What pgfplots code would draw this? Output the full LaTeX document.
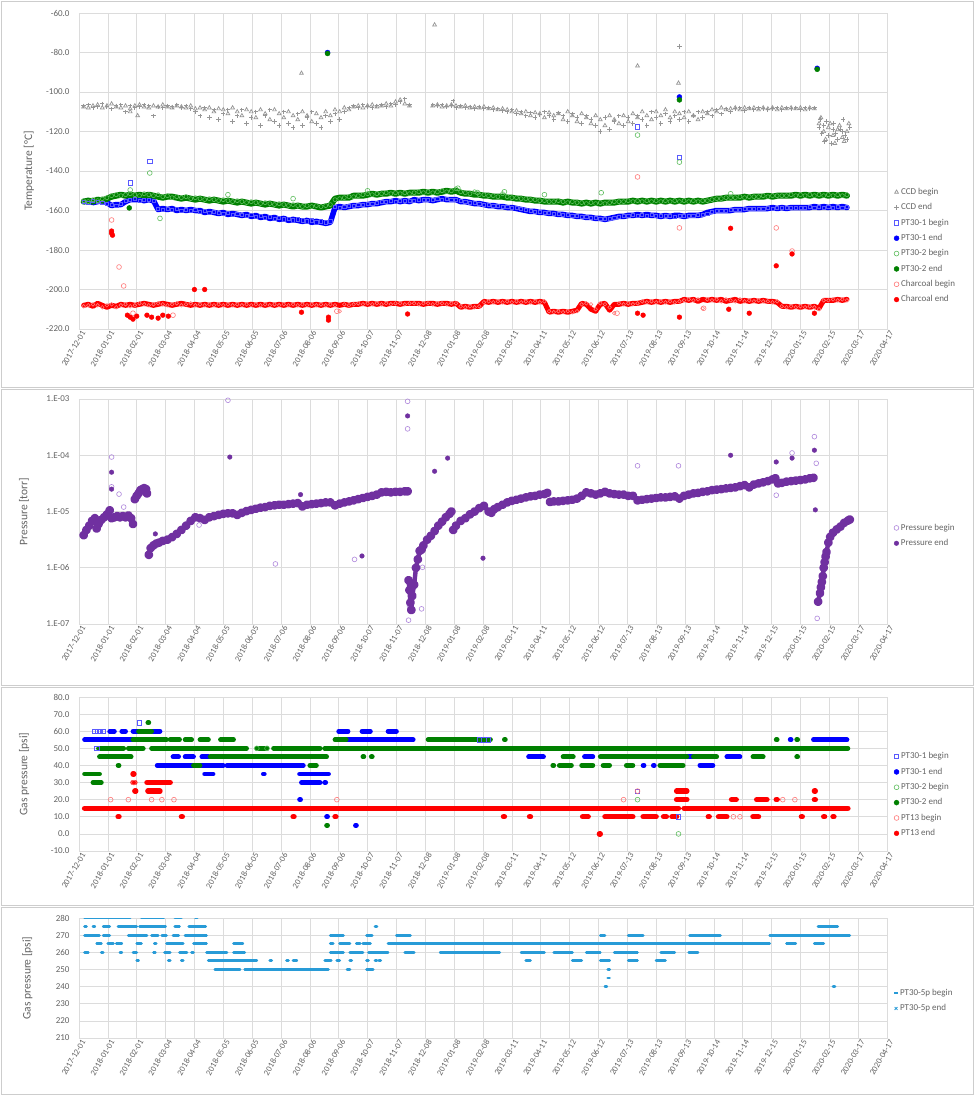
\documentclass[border=0pt]{standalone}
\usepackage{pgfplots}
\pgfplotsset{compat=1.18}
\usepackage{pgfplotstable}
\usepackage{fontspec}
\setmainfont{Carlito}
\definecolor{txt}{RGB}{100,100,100}
\definecolor{grd}{RGB}{220,220,220}
\definecolor{frm}{RGB}{205,205,205}
\definecolor{ccdc}{RGB}{150,150,150}
\definecolor{b1}{RGB}{0,0,255}
\definecolor{b1l}{RGB}{90,90,255}
\definecolor{g2}{RGB}{0,128,0}
\definecolor{g2l}{RGB}{95,190,95}
\definecolor{rc}{RGB}{255,0,0}
\definecolor{rcl}{RGB}{255,120,120}
\definecolor{pp}{RGB}{112,48,160}
\definecolor{ppl}{RGB}{175,135,220}
\definecolor{lb}{RGB}{40,155,215}
\newcommand\tf{\fontsize{8.5}{10}\selectfont}
\newcommand\yf{\fontsize{9}{10}\selectfont}
\newcommand\lf{\fontsize{9}{10}\selectfont}
\newcommand\af{\fontsize{11.5}{13}\selectfont}
\pgfplotsset{
  base/.style={
    scale only axis, width=808pt, anchor=north west,
    xmin=0, xmax=868, xtick={0,31,...,868},
    xticklabels={2017-12-01,2018-01-01,2018-02-01,2018-03-04,2018-04-04,2018-05-05,2018-06-05,2018-07-06,2018-08-06,2018-09-06,2018-10-07,2018-11-07,2018-12-08,2019-01-08,2019-02-08,2019-03-11,2019-04-11,2019-05-12,2019-06-12,2019-07-13,2019-08-13,2019-09-13,2019-10-14,2019-11-14,2019-12-15,2020-01-15,2020-02-15,2020-03-17,2020-04-17},
    xticklabel style={rotate=60, anchor=east, font=\tf, text=txt, inner sep=0.5pt, yshift=-5pt, xshift=1pt},
    yticklabel style={font=\yf, text=txt, xshift=-6pt},
    ylabel style={font=\af, text=txt},
    xmajorgrids, ymajorgrids, major grid style={grd, line width=0.6pt},
    axis line style={grd, line width=0.6pt},
    major tick length=0pt, minor tick length=0pt,
    legend style={draw=none, fill=none, font=\lf, text=txt, anchor=west, row sep=3.6pt, inner sep=2pt},
    legend cell align=left,
    legend image code/.code={\draw[mark repeat=2,mark phase=2] plot coordinates {(0pt,0pt)(3pt,0pt)(6pt,0pt)};},
  },
  ccdB/.style={only marks, mark=triangle, mark size=2.2pt, ccdc, mark options={line width=0.7pt}},
  ccdE/.style={only marks, mark=+, mark size=2.2pt, ccdc, mark options={line width=0.9pt}},
  p1B/.style={only marks, mark=square, mark size=2.2pt, b1l, mark options={line width=0.6pt}},
  p1E/.style={only marks, mark=*, mark size=2.5pt, b1},
  p2B/.style={only marks, mark=o, mark size=2.4pt, g2l, mark options={line width=0.6pt}},
  p2E/.style={only marks, mark=*, mark size=2.5pt, g2},
  chB/.style={only marks, mark=o, mark size=2.4pt, rcl, mark options={line width=0.6pt}},
  chE/.style={only marks, mark=*, mark size=2.4pt, rc},
  prB/.style={only marks, mark=o, mark size=2.4pt, ppl, mark options={line width=0.6pt}},
  prE/.style={only marks, mark=*, mark size=2.3pt, pp},
  run/.style={forget plot, line width=#1, line cap=round, line join=round, unbounded coords=jump},
}
\pgfplotstableread{
d cB cE bB bE gB gE rB rE
5 -107.5 -107 -155.5 -155.5 -155 -155.5 -208.5 -208
10 -108 -106.5 -156 -155 -155.5 -155 -208 -207.5
15 -107 -108 -155 -156 -154.5 -155.5 -207.5 -208.5
20 -106.5 -107.5 -155.5 -155.5 -155 -154.5 -208 -207
25 -108 -106 -156 -155 -154 -155 -209 -208
30 -107 -107.5 -156.5 -156 -153.5 -154 -208 -209
35 -106 -108.5 -157 -157.5 -152.5 -153 -207.5 -208
40 -107.5 -107 -157.5 -157 -152 -152.5 -209 -208.5
45 -108 -106.5 -156.5 -157 -152.5 -152 -208 -207.5
50 -107 -110 -155 -155.5 -152 -152.5 -207.5 -208
55 -108.5 -107 -154.5 -154.5 -151.5 -152 -208.5 -207.5
60 -107 -108 -154 -154.5 -152 -152.5 -208 -208
65 -106.5 -107.5 -155 -154.5 -152.5 -152 -207 -207.5
70 -107.5 -106.5 -154.5 -155 -151.5 -152.5 -207.5 -207
75 -108 -107 -154.5 -154.5 -152 -152 -208 -207.5
80 -107 -112 -155 -155 -152.5 -152.5 -207.5 -208
85 -107.5 -107.5 -159 -159.5 -152 -153 -207 -207.5
90 -106.5 -108 -159.5 -159 -153 -153.5 -207.5 -207
95 -107.5 -107 -159 -159.5 -152.5 -153 -208 -207.5
100 -108 -107.5 -159.5 -159 -153.5 -153 -207.5 -208
105 -107 -106.5 -159 -160 -153 -153.5 -207 -207.5
110 -107.5 -108 -160 -159.5 -153.5 -154 -208 -207
115 -108 -107 -159.5 -160 -153 -153.5 -207.5 -207.5
120 -107 -108.5 -160 -159.5 -154 -154 -207 -208
125 -108.5 -110 -159.5 -160 -153.5 -154.5 -208 -207.5
130 -108 -112 -160.5 -160 -154 -154 -207.5 -208
135 -109 -108 -160 -161 -154.5 -154.5 -208 -207.5
140 -108 -113 -161 -160.5 -154 -155 -207.5 -208
145 -110 -109 -160.5 -161 -154.5 -154.5 -208 -207.5
150 -108.5 -114 -161 -161.5 -155 -155 -207.5 -208
155 -109 -111 -161.5 -161 -154.5 -155.5 -208 -207.5
160 -111 -109 -161 -162 -155 -155 -207.5 -208
165 -108 -115 -162 -161.5 -155.5 -155.5 -208 -207.5
170 -110 -112 -161.5 -162 -155 -156 -207.5 -208
175 -112 -109 -162 -162.5 -155.5 -155.5 -208 -207.5
180 -109 -116 -162.5 -162 -156 -156 -207.5 -208
185 -110 -113 -162 -163 -155.5 -156.5 -208 -207.5
190 -113 -110 -163 -162.5 -156 -156 -207.5 -208
195 -109 -117 -162.5 -163.5 -156.5 -156.5 -208 -207.5
200 -111 -112 -163.5 -163 -156 -157 -207.5 -208
205 -114 -109 -163 -164 -156.5 -156.5 -208 -207.5
210 -109 -115 -164 -163.5 -157 -157 -207.5 -208
215 -111 -117 -163.5 -164.5 -156.5 -157.5 -208 -207.5
220 -113 -110 -164.5 -164 -157 -157 -207.5 -208
225 -110 -116 -164 -165 -157.5 -157.5 -208 -207.5
230 -112 -118 -165 -164.5 -157 -158 -207.5 -208
235 -114 -111 -164.5 -165 -157.5 -157.5 -208 -207.5
240 -110 -117 -165 -165.5 -158 -158 -207.5 -208
245 -112 -113 -165.5 -165 -157.5 -158 -208 -207.5
250 -115 -110 -165 -166 -158 -157.5 -207.5 -208
255 -111 -116 -166 -165.5 -157.5 -158 -208 -207.5
260 -113 -118 -165.5 -166 -158 -158.5 -207.5 -208
265 -110 -112 -166 -166.5 -157.5 -158 -208 -207.5
270 -112 -115 -165.5 -166 -157 -157.5 -207.5 -208
275 -109 -111 -158 -158.5 -154.5 -154 -208 -207.5
280 -110 -114 -158.5 -158 -154 -153.5 -211 -208
285 -108 -110 -158 -158.5 -153.5 -153.5 -207.5 -207.5
290 -109 -108 -157.5 -158 -153 -153.5 -208 -208
295 -107.5 -107 -157.5 -157.5 -153 -152.5 -207.5 -207.5
300 -107 -108 -157 -157.5 -152.5 -152.5 -207 -207.5
305 -108 -106.5 -157 -157 -152 -152.5 -207.5 -207
310 -107 -107.5 -156.5 -157 -151.5 -152 -207 -207.5
315 -106.5 -108 -156.5 -156.5 -152 -151.5 -207.5 -207
320 -107.5 -107 -156 -156.5 -151.5 -152 -207 -207.5
325 -107 -106.5 -155.5 -156 -151.5 -151.5 -207.5 -207
330 -106 -107.5 -155.5 -155.5 -151 -151.5 -207 -207.5
335 -107 -106 -155 -155.5 -151.5 -151 -207.5 -207
340 -105 -106.5 -155.5 -155 -151 -151.5 -207 -207
345 -104 -105 -155 -155.5 -151.5 -151 -207 -207.5
350 -106 -103.5 -155 -155 -151 -151.5 -207.5 -207
355 -107 -106.5 -155 -155.5 -151.5 -151 -207 -207
360 nan nan -155 -154.5 -151 -151 -207 -207
365 nan nan -154.5 -155 -150.5 -151 -207.5 -207
370 nan nan -154.5 -154.5 -151 -150.5 -207 -207.5
375 nan nan -154.5 -154.5 -150.5 -151 -207 -207
380 -107 -106.5 -154.5 -155 -151 -150.5 -207.5 -207
385 -106.5 -107 -154 -154.5 -150.5 -151 -207 -207.5
390 -107.5 -106.5 -154.5 -154 -150 -150.5 -207 -207
395 -107 -107.5 -154 -154.5 -150.5 -150 -207.5 -207
400 -106.5 -107 -154.5 -154.5 -150 -150.5 -207 -207.5
405 -107 -108 -154.5 -154.5 -149 -150 -207 -207
410 -107.5 -107 -155 -155.5 -150.5 -151 -208.5 -209
415 -107 -108 -155.5 -155.5 -151 -151.5 -209 -208.5
420 -108 -107.5 -156 -156 -151.5 -151.5 -208.5 -209
425 -107.5 -108.5 -156 -156.5 -150.5 -152 -209 -208.5
430 -108 -107.5 -156.5 -156.5 -152 -152 -208.5 -208.5
435 -107.5 -108.5 -157 -157 -152 -152.5 -206.5 -206
440 -108.5 -108 -157 -157.5 -152.5 -152.5 -206 -206.5
445 -108 -109 -157.5 -157.5 -152.5 -153 -206.5 -206
450 -109 -108.5 -157.5 -158 -153 -153 -206 -206.5
455 -108.5 -109.5 -158 -158 -151.5 -153 -206.5 -206
460 -109 -110 -158 -158.5 -153 -153.5 -206 -206.5
465 -110 -109 -158.5 -158.5 -153.5 -153.5 -206.5 -206
470 -109.5 -111 -158.5 -159 -153.5 -154 -206 -206.5
475 -111 -110 -159 -159.5 -154 -154 -206.5 -206
480 -110 -112 -159.5 -160 -154 -154.5 -206 -206.5
485 -112 -110.5 -160 -160.5 -154.5 -154.5 -206.5 -206
490 -110.5 -113 -160.5 -160.5 -154.5 -155 -206 -206.5
495 -111 -111.5 -160.5 -161 -155 -155 -206.5 -206
500 -113 -110 -161 -161 -155 -155.5 -206 -206.5
505 -110.5 -112 -161 -161.5 -155.5 -155.5 -211 -211.5
510 -112 -114 -161.5 -161.5 -155.5 -155.5 -211.5 -211
515 -111 -110.5 -161.5 -162 -155 -155.5 -211 -211.5
520 -114 -112 -162 -162 -155.5 -156 -211.5 -211
525 -110 -115 -162 -162.5 -156 -155.5 -211 -211.5
530 -112 -111 -162.5 -162.5 -155.5 -156 -211.5 -211
535 -115 -113 -162.5 -163 -156 -156 -211 -210.5
540 -111 -116 -163 -163 -156 -156.5 -207.5 -207
545 -113 -112 -163 -163.5 -156.5 -156 -207 -207.5
550 -116 -114 -163.5 -163.5 -156 -156.5 -207.5 -210
555 -112 -117 -163.5 -164 -156.5 -156 -210 -211
560 -114 -120 -164 -164 -156 -156.5 -207 -207.5
565 -117 -113 -164 -164.5 -156.5 -156 -207.5 -207
570 -112 -119 -164 -164 -156 -156 -209 -210.5
575 -114 -115 -163.5 -163.5 -155.5 -156 -212 -207.5
580 -116 -112 -163 -163 -155.5 -155.5 -207 -207.5
585 -112 -117 -162.5 -163 -155.5 -155.5 -207.5 -207
590 -115 -113 -162.5 -162.5 -155 -155.5 -207 -207.5
595 -111 -116 -162 -162.5 -155.5 -155 -207.5 -207
600 -113 -112 -162.5 -162 -155 -155.5 -207 -207
605 -110 -114 -162 -162.5 -155.5 -155 -206 -206.5
610 -112 -117 -162.5 -162 -155 -155.5 -206.5 -206
615 -114 -110 -162 -162.5 -155.5 -155 -206 -206.5
620 -110 -113 -162.5 -162.5 -155 -155.5 -206.5 -206
625 -112 -116 -162.5 -163 -155.5 -155 -206 -206.5
630 -109 -111 -162.5 -162.5 -155 -155.5 -206.5 -206
635 -113 -115 -162.5 -163 -155.5 -155 -206 -206.5
640 -110 -112 -163 -162.5 -155 -155.5 -206.5 -206
645 -111 -114 -162.5 -162.5 -155.5 -155 -206 -206
650 -113 -110 -162.5 -163 -155 -155.5 -205.5 -205
655 -110 -115 -162.5 -162.5 -155.5 -155 -205 -205.5
660 -112 -112 -162.5 -162.5 -155 -155.5 -205.5 -205
665 -114 -110 -162 -162.5 -155.5 -155 -205 -206
670 -110 -113 -162 -162 -155 -155.5 -209.5 -205
675 -111 -110 -161.5 -161 -155 -155 -205 -205.5
680 -109 -112 -160.5 -160.5 -154.5 -154.5 -205.5 -205
685 -110 -109 -160 -160 -154 -154 -205 -205.5
690 -108 -111 -160 -160 -154 -154 -206 -205
695 -109 -108.5 -160 -160 -153.5 -153.5 -205 -206
700 -108.5 -110 -159.5 -160 -153.5 -153.5 -205.5 -205.5
705 -108 -108.5 -159.5 -159.5 -153.5 -153.5 -206 -205
710 -109 -108 -159.5 -159.5 -153 -153.5 -205 -206
715 -108 -109.5 -159 -159.5 -153.5 -153 -206 -205.5
720 -108.5 -108 -159 -159 -153 -153.5 -205.5 -206
725 -108 -109 -159 -159 -153 -153 -206 -205.5
730 -109 -108 -159 -159 -153 -153 -205.5 -206
735 -108 -108.5 -159 -159 -152.5 -153 -206 -205.5
740 -108.5 -109 -158.5 -159 -153 -152.5 -206 -206
745 -108 -108.5 -159 -158.5 -152.5 -153 -206.5 -206
750 -109 -108 -158.5 -159 -152.5 -152.5 -206 -206.5
755 -108 -109 -158.5 -158.5 -152.5 -152.5 -208.5 -208.5
760 -108.5 -108 -158.5 -159 -152.5 -152.5 -209 -208.5
765 -108 -108.5 -158.5 -158.5 -152 -152.5 -208.5 -209
770 -108.5 -108 -158.5 -158.5 -152.5 -152 -209 -208.5
775 -108 -109 -158.5 -158.5 -152 -152.5 -208.5 -209
780 -109 -108 -158.5 -158.5 -152.5 -152 -209 -208.5
785 -108 -108.5 -158 -158.5 -152 -152.5 -208.5 -209
790 -108.5 -108 -158.5 -158 -152.5 -152 -209 -208.5
795 -116 -118 -158 -158.5 -152 -152.5 -210 -209.5
800 -120 -117 -158.5 -158 -152.5 -152 -205.5 -205.5
805 -118 -122 -158 -158.5 -152 -152.5 -205.5 -205.5
810 -122 -119 -158.5 -158 -152.5 -152 -205 -205.5
815 -119 -124 -158 -158.5 -152 -152.5 -205.5 -205
820 -123 -120 -158.5 -158 -152.5 -152 -205 -205.5
825 -120 -124 -158 -158.5 -152 -152.5 -205.5 -205
}\Ttab
\begin{document}
\begin{tikzpicture}
\path[use as bounding box] (0pt,0pt) rectangle (975pt,-1096pt);
\fill[white] (0pt,0pt) rectangle (975pt,-1096pt);
\draw[frm, line width=0.8pt] (1.5pt,-1.5pt) rectangle (973.5pt,-387pt);
\draw[frm, line width=0.8pt] (1.5pt,-389pt) rectangle (973.5pt,-685pt);
\draw[frm, line width=0.8pt] (1.5pt,-687pt) rectangle (973.5pt,-905pt);
\draw[frm, line width=0.8pt] (1.5pt,-907pt) rectangle (973.5pt,-1094.5pt);

% ---------------- Panel 1 ----------------
\begin{axis}[base, at={(79pt,-13pt)}, height=316pt,
  ymin=-220, ymax=-60, ytick={-220,-200,...,-60},
  yticklabels={-220.0,-200.0,-180.0,-160.0,-140.0,-120.0,-100.0,-80.0,-60.0},
  ylabel={Temperature [°C]}, ylabel style={at={(axis description cs:-0.062,0.5)}, anchor=center},
  legend style={at={(1.006,0.263)}}]
\addlegendimage{ccdB}\addlegendentry{CCD begin}
\addlegendimage{ccdE}\addlegendentry{CCD end}
\addlegendimage{p1B}\addlegendentry{PT30-1 begin}
\addlegendimage{p1E}\addlegendentry{PT30-1 end}
\addlegendimage{p2B}\addlegendentry{PT30-2 begin}
\addlegendimage{p2E}\addlegendentry{PT30-2 end}
\addlegendimage{chB}\addlegendentry{Charcoal begin}
\addlegendimage{chE}\addlegendentry{Charcoal end}
\addplot[ccdB, forget plot] table[x=d,y=cB] {\Ttab};
\addplot[ccdB, forget plot] coordinates {(239,-90.5)(382,-66)(600,-86.8)(644,-95.5)(55,-110)(63,-112)(797,-113)(802,-124)(807,-116)(812,-126)(817,-117)(822,-125)(827,-116)};
\addplot[ccdE, forget plot] table[x=d,y=cE] {\Ttab};
\addplot[ccdE, forget plot] coordinates {(645,-77)(402,-104.5)(796,-114)(798,-121)(801,-125)(803,-115)(808,-126)(811,-116)(813,-121)(818,-119)(821,-114)(823,-122)(828,-118)};
\addplot[p1B, forget plot, mark size=1.6pt] table[x=d,y=bB] {\Ttab};
\addplot[p1B, forget plot] coordinates {(55,-146)(76,-135)(645,-133)(600,-117.7)};
\addplot[run=5.5pt, b1] table[x=d,y=bE] {\Ttab};
\addplot[p1E, forget plot] coordinates {(267,-80)(645,-102.5)(793,-88)};
\addplot[p2B, forget plot, mark size=2pt] table[x=d,y=gB] {\Ttab};
\addplot[p2B, forget plot] coordinates {(76,-141)(55,-149.6)(87,-164)(600,-121.8)(645,-135.5)(407,-148.7)(428,-150.9)(457,-150.5)(561,-151)(310,-150)(500,-152)(160,-152)(230,-154)(700,-151.5)};
\addplot[run=6pt, g2] table[x=d,y=gE] {\Ttab};
\addplot[p2E, forget plot] coordinates {(267,-80.5)(645,-104)(793,-88.5)(54,-158.7)};
\addplot[chB, forget plot, mark size=1.8pt] table[x=d,y=rB] {\Ttab};
\addplot[chB, forget plot] coordinates {(35,-164.8)(43,-188.6)(48,-198.2)(600,-143)(645,-168.8)(749,-168.8)(766,-180.5)(101,-213)(277,-211)(578,-212)(671,-209.5)(58,-212)};
\addplot[run=5pt, rc] table[x=d,y=rE] {\Ttab};
\addplot[chE, forget plot] coordinates {(35,-170.4)(35,-171.5)(36,-172.5)(124,-200)(135,-200)(52,-213)(55,-214)(58,-215)(62,-213.5)(73,-213)(78,-214)(85,-214.5)(90,-213)(96,-213.5)(239,-211.5)(268,-214)(268,-215.5)(353,-212.4)(700,-169)(749,-188)(766,-182)(600,-212)(606,-213)(645,-214)(698,-210)(720,-212)(790,-212)};
\end{axis}

% ---------------- Panel 2 ----------------
\begin{axis}[base, at={(79pt,-399pt)}, height=225pt, ymode=log, clip=false,
  ymin=1e-7, ymax=1e-3, ytick={1e-7,1e-6,1e-5,1e-4,1e-3},
  yticklabels={1.E-07,1.E-06,1.E-05,1.E-04,1.E-03},
  ylabel={Pressure [torr]}, ylabel style={at={(axis description cs:-0.068,0.5)}, anchor=center},
  legend style={at={(1.006,0.393)}}]
\addlegendimage{prB}\addlegendentry{Pressure begin}
\addlegendimage{prE}\addlegendentry{Pressure end}
\addplot[prB, forget plot] coordinates {(35,9.3e-5)(35,2.75e-5)(43,2.04e-5)(48,1.2e-5)(160,9.5e-4)(129,5.75e-6)(211,1.17e-6)(296,1.41e-6)(353,9.1e-4)(353,2.95e-4)(354,1.17e-7)(355,2.1e-7)(368,1.86e-7)(369,1.02e-6)(600,6.5e-5)(644,6.5e-5)(749,1.95e-5)(766,1.1e-4)(790,2.14e-4)(792,7.2e-5)(793,1.26e-7)(800,1.12e-6)};
\addplot[run=4.4pt, pp, mark=*, mark size=2.2pt] coordinates {
(5,3.8e-6)(8,4.7e-6)(11,5.6e-6)(14,6.8e-6)(17,7.6e-6)(19,5.0e-6)(21,6.0e-6)(24,7.1e-6)(27,7.9e-6)(30,8.9e-6)(33,1.05e-5)(33,nan)
(35,7.6e-6)(38,7.9e-6)(41,8.3e-6)(44,7.9e-6)(47,8.3e-6)(50,7.9e-6)(53,8.5e-6)(56,7.6e-6)(58,6.0e-6)(58,nan)
(60,1.66e-5)(62,1.9e-5)(64,2.1e-5)(66,2.4e-5)(68,2.5e-5)(70,2.6e-5)(72,2.5e-5)(73,2.1e-5)(73,nan)
(75,1.7e-6)(77,2.24e-6)(80,2.5e-6)(83,2.7e-6)(86,2.8e-6)(90,3.0e-6)(95,3.16e-6)(100,3.5e-6)(105,4.0e-6)(110,4.7e-6)(115,5.6e-6)(120,6.8e-6)(125,7.9e-6)(130,7.6e-6)(135,7.1e-6)(140,7.9e-6)(145,8.3e-6)(150,8.7e-6)(155,9.1e-6)(160,9.3e-6)(165,9.3e-6)(170,8.7e-6)(175,9.5e-6)(180,1.02e-5)(185,1.07e-5)(190,1.12e-5)(195,1.17e-5)(200,1.2e-5)(205,1.26e-5)(210,1.29e-5)(215,1.32e-5)(220,1.32e-5)(225,1.35e-5)(230,1.38e-5)(235,1.41e-5)(240,1.23e-5)(245,1.32e-5)(250,1.35e-5)(255,1.38e-5)(260,1.41e-5)(265,1.45e-5)(270,1.45e-5)(275,1.29e-5)(280,1.38e-5)(285,1.45e-5)(290,1.51e-5)(295,1.58e-5)(300,1.66e-5)(305,1.74e-5)(310,1.82e-5)(315,1.9e-5)(320,2.0e-5)(325,2.19e-5)(330,2.24e-5)(335,2.19e-5)(340,2.24e-5)(345,2.24e-5)(350,2.29e-5)(353,2.29e-5)(353,nan)
(354,6.0e-7)(355,4.0e-7)(356,2.4e-7)(357,1.78e-7)(358,3.16e-7)(360,5.0e-7)(362,1.0e-6)(364,1.41e-6)(366,2.0e-6)(368,2.1e-6)(370,2.5e-6)(374,3.16e-6)(378,3.7e-6)(382,4.5e-6)(386,5.6e-6)(390,6.6e-6)(394,7.9e-6)(398,9.1e-6)(400,1.0e-5)(400,nan)
(402,4.7e-6)(405,5.6e-6)(410,6.8e-6)(415,7.6e-6)(420,8.9e-6)(425,1.0e-5)(430,1.15e-5)(435,1.26e-5)(440,1.0e-5)(443,9.5e-6)(446,1.1e-5)(450,1.2e-5)(455,1.32e-5)(460,1.45e-5)(465,1.55e-5)(470,1.62e-5)(475,1.7e-5)(480,1.78e-5)(485,1.86e-5)(490,1.9e-5)(495,2.0e-5)(500,2.04e-5)(503,2.14e-5)(503,nan)
(506,1.48e-5)(510,1.51e-5)(515,1.51e-5)(520,1.55e-5)(525,1.58e-5)(530,1.62e-5)(535,1.7e-5)(540,1.9e-5)(545,2.19e-5)(550,2.1e-5)(555,2.0e-5)(560,2.1e-5)(565,2.24e-5)(570,2.1e-5)(575,2.04e-5)(580,2.0e-5)(585,2.0e-5)(590,1.9e-5)(595,1.9e-5)(595,nan)
(600,1.58e-5)(605,1.62e-5)(610,1.66e-5)(615,1.7e-5)(620,1.74e-5)(625,1.78e-5)(630,1.78e-5)(635,1.82e-5)(640,1.86e-5)(645,1.7e-5)(650,1.9e-5)(655,2.0e-5)(660,2.1e-5)(665,2.14e-5)(670,2.24e-5)(675,2.29e-5)(680,2.4e-5)(685,2.45e-5)(690,2.5e-5)(695,2.57e-5)(700,2.63e-5)(705,2.69e-5)(710,2.82e-5)(715,2.95e-5)(720,2.69e-5)(725,3.02e-5)(730,3.16e-5)(735,3.31e-5)(740,3.47e-5)(745,3.72e-5)(748,3.9e-5)(748,nan)
(751,3.16e-5)(755,3.24e-5)(760,3.39e-5)(765,3.47e-5)(770,3.55e-5)(775,3.63e-5)(780,3.72e-5)(785,3.9e-5)(789,3.98e-5)(789,nan)
(794,2.5e-7)(796,3.55e-7)(797,4.5e-7)(798,5.6e-7)(799,7.1e-7)(800,1.0e-6)(801,1.26e-6)(802,1.58e-6)(803,1.9e-6)(805,2.8e-6)(807,3.55e-6)(810,4.2e-6)(814,4.8e-6)(818,5.4e-6)(822,6.3e-6)(826,6.9e-6)(828,7.2e-6)};
\addplot[prE, forget plot] coordinates {(35,5.0e-5)(35,2.5e-5)(162,9.3e-5)(238,2.0e-5)(304,1.62e-6)(82,4.0e-6)(353,5.0e-4)(382,5.2e-5)(396,8.9e-5)(434,1.48e-6)(700,1.0e-4)(749,7.6e-5)(766,8.9e-5)(790,1.23e-4)(791,1.07e-5)};
\end{axis}

% ---------------- Panel 3 ----------------
\begin{axis}[base, at={(79pt,-697pt)}, height=154pt,
  ymin=-10, ymax=80, ytick={-10,0,...,80},
  yticklabels={-10.0,0.0,10.0,20.0,30.0,40.0,50.0,60.0,70.0,80.0},
  ylabel={Gas pressure [psi]}, ylabel style={at={(axis description cs:-0.068,0.5)}, anchor=center},
  legend style={at={(1.006,0.364)}}]
\addlegendimage{p1B}\addlegendentry{PT30-1 begin}
\addlegendimage{p1E}\addlegendentry{PT30-1 end}
\addlegendimage{p2B}\addlegendentry{PT30-2 begin}
\addlegendimage{p2E}\addlegendentry{PT30-2 end}
\addlegendimage{chB}\addlegendentry{PT13 begin}
\addlegendimage{chE}\addlegendentry{PT13 end}
\addplot[p1B, forget plot] coordinates {(17,60)(20,60)(23,60)(26,60)(19,50)(65,65)(430,55)(435,55)(440,55)(644,10)(600,25)};
\addplot[run=4.8pt, b1] coordinates {
(6,55)(58,55)(58,nan)(277,55)(359,55)(359,nan)(789,55)(825,55)(825,nan)(764,55)(765,55)(765,nan)
(33,60)(38,60)(38,nan)(46,60)(50,60)(50,nan)(58,60)(87,60)(87,nan)(279,60)(289,60)(289,nan)(304,60)(313,60)(313,nan)(332,60)(341,60)(341,nan)
(33,50)(46,50)(46,nan)
(101,45)(107,45)(107,nan)(114,45)(123,45)(123,nan)(132,45)(139,45)(139,nan)(144,45)(150,45)(150,nan)(160,45)(166,45)(166,nan)(483,45)(499,45)(499,nan)(543,45)(552,45)(552,nan)(653,45)(660,45)(660,nan)(696,45)(710,45)(710,nan)
(84,40)(123,40)(123,nan)(130,40)(155,40)(155,nan)(159,40)(241,40)(241,nan)(606,40)(607,40)(607,nan)(617,40)(618,40)(618,nan)(628,40)(629,40)(629,nan)(633,40)(634,40)(634,nan)(667,40)(681,40)(681,nan)
(135,35)(144,35)(144,nan)(198,35)(199,35)(199,nan)(237,35)(268,35)(268,nan)
(239,30)(259,30)(259,nan)(264,30)(265,30)(265,nan)
(237,20)(238,20)(238,nan)(266,10)(267,10)(267,nan)(297,5)(298,5)};
\addplot[p2B, forget plot] coordinates {(600,20)(644,0)(191,50)(202,50)};
\addplot[run=4.8pt, g2] coordinates {
(6,35)(22,35)(22,nan)(15,30)(24,30)(24,nan)
(21,50)(48,50)(48,nan)(53,50)(69,50)(69,nan)(78,50)(180,50)(180,nan)(191,50)(202,50)(202,nan)(209,50)(259,50)(259,nan)(264,50)(826,50)(826,nan)
(22,45)(56,45)(56,nan)(141,45)(266,45)(266,nan)(305,45)(306,45)(306,nan)(314,45)(315,45)(315,nan)(520,45)(531,45)(531,nan)(560,45)(653,45)(653,nan)(660,45)(685,45)(685,nan)(724,45)(735,45)(735,nan)(771,45)(772,45)(772,nan)
(58,55)(94,55)(94,nan)(98,55)(108,55)(108,nan)(114,55)(121,55)(121,nan)(130,55)(139,55)(139,nan)(152,55)(166,55)(166,nan)(275,55)(287,55)(287,nan)(375,55)(442,55)(442,nan)(457,55)(458,55)(458,nan)(749,55)(750,55)(750,nan)(771,55)(772,55)(772,nan)
(64,60)(78,60)(78,nan)
(42,40)(43,40)(43,nan)(123,40)(130,40)(130,nan)(248,40)(255,40)(255,nan)(509,40)(510,40)(510,nan)(516,40)(529,40)(529,nan)(540,40)(552,40)(552,nan)(563,40)(570,40)(570,nan)(588,40)(595,40)(595,nan)(624,40)(649,40)(649,nan)
(74,65)(75,65)(75,nan)(266,5)(267,5)};
\addplot[chB, forget plot] coordinates {(34,20)(53,20)(59,30)(78,20)(89,20)(102,20)(277,20)(585,20)(600,25)(703,10)(710,10)(756,20)(769,20)};
\addplot[run=5.4pt, rc] coordinates {
(6,15)(644,15)(644,nan)(650,15)(826,15)(826,nan)
(58,35)(59,35)(59,nan)(58,30)(60,30)(60,nan)(73,30)(98,30)(98,nan)(60,25)(61,25)(61,nan)(74,25)(87,25)(87,nan)
(42,10)(43,10)(43,nan)(110,10)(111,10)(111,nan)(230,10)(231,10)(231,nan)(275,10)(276,10)(276,nan)(456,10)(457,10)(457,nan)(484,10)(485,10)(485,nan)(541,10)(547,10)(547,nan)(565,10)(595,10)(595,nan)(606,10)(620,10)(620,nan)(628,10)(631,10)(631,nan)(637,10)(642,10)(642,nan)(676,10)(677,10)(677,nan)(687,10)(696,10)(696,nan)(724,10)(730,10)(730,nan)(776,10)(777,10)(777,nan)(800,10)(801,10)(801,nan)(810,10)(811,10)(811,nan)
(642,20)(653,20)(653,nan)(701,20)(706,20)(706,nan)(728,20)(739,20)(739,nan)(749,20)(750,20)(750,nan)(790,20)(791,20)(791,nan)
(642,25)(653,25)(653,nan)(790,25)(791,25)(791,nan)(559,0)(560,0)};
\end{axis}

% ---------------- Panel 4 ----------------
\begin{axis}[base, at={(79pt,-918pt)}, height=120pt,
  ymin=210, ymax=280, ytick={210,220,...,280},
  yticklabels={210,220,230,240,250,260,270,280},
  ylabel={Gas pressure [psi]}, ylabel style={at={(axis description cs:-0.064,0.5)}, anchor=center},
  legend style={at={(1.006,0.31)}}]
\addlegendimage{only marks, mark=-, mark size=2pt, lb, mark options={line width=1.5pt}}\addlegendentry{PT30-5p begin}
\addlegendimage{only marks, mark=x, mark size=2pt, lb, mark options={line width=0.8pt}}\addlegendentry{PT30-5p end}
\addplot[run=2.8pt, lb] coordinates {
(6,280)(55,280)(55,nan)(67,280)(91,280)(91,nan)(103,280)(110,280)(110,nan)(125,280)(127,280)(127,nan)
(6,275)(8,275)(8,nan)(15,275)(17,275)(17,nan)(26,275)(33,275)(33,nan)(42,275)(62,275)(62,nan)(65,275)(93,275)(93,nan)(103,275)(108,275)(108,nan)(118,275)(136,275)(136,nan)(318,275)(320,275)(320,nan)(794,275)(815,275)(815,nan)
(6,270)(22,270)(22,nan)(26,270)(33,270)(33,nan)(53,270)(73,270)(73,nan)(78,270)(85,270)(85,nan)(89,270)(94,270)(94,nan)(101,270)(107,270)(107,nan)(114,270)(137,270)(137,nan)(270,270)(284,270)(284,nan)(309,270)(315,270)(315,nan)(341,270)(356,270)(356,nan)(560,270)(565,270)(565,nan)(590,270)(606,270)(606,nan)(656,270)(689,270)(689,nan)(742,270)(828,270)(828,nan)
(19,265)(24,265)(24,nan)(31,265)(37,265)(37,nan)(40,265)(46,265)(46,nan)(62,265)(67,265)(67,nan)(81,265)(83,265)(83,nan)(94,265)(112,265)(112,nan)(123,265)(137,265)(137,nan)(166,265)(176,265)(176,nan)(270,265)(273,265)(273,nan)(280,265)(291,265)(291,nan)(298,265)(302,265)(302,nan)(305,265)(313,265)(313,nan)(332,265)(742,265)(742,nan)(760,265)(770,265)(770,nan)(790,265)(800,265)(800,nan)
(6,260)(10,260)(10,nan)(24,260)(26,260)(26,nan)(44,260)(46,260)(46,nan)(58,260)(62,260)(62,nan)(80,260)(82,260)(82,nan)(92,260)(98,260)(98,nan)(108,260)(116,260)(116,nan)(121,260)(123,260)(123,nan)(137,260)(159,260)(159,nan)(166,260)(178,260)(178,nan)(270,260)(284,260)(284,nan)(291,260)(305,260)(305,nan)(311,260)(332,260)(332,nan)(350,260)(360,260)(360,nan)(388,260)(452,260)(452,nan)(475,260)(500,260)(500,nan)(510,260)(530,260)(530,nan)(545,260)(560,260)(560,nan)(575,260)(600,260)(600,nan)(625,260)(640,260)(640,nan)(655,260)(665,260)(665,nan)
(62,255)(64,255)(64,nan)(96,255)(98,255)(98,nan)(110,255)(112,255)(112,nan)(139,255)(191,255)(191,nan)(205,255)(207,255)(207,nan)(223,255)(225,255)(225,nan)(230,255)(234,255)(234,nan)(264,255)(271,255)(271,nan)(277,255)(280,255)(280,nan)(291,255)(293,255)(293,nan)(309,255)(311,255)(311,nan)(318,255)(320,255)(320,nan)(322,255)(324,255)(324,nan)(480,255)(485,255)(485,nan)(530,255)(540,255)(540,nan)(560,255)(570,255)(570,nan)(590,255)(600,255)(600,nan)(620,255)(630,255)(630,nan)
(146,250)(173,250)(173,nan)(178,250)(268,250)(268,nan)(288,250)(291,250)(291,nan)(309,250)(316,250)(316,nan)(568,250)(570,250)(570,nan)
(568,245)(570,245)(570,nan)(565,240)(567,240)(567,nan)(810,240)(812,240)};
\end{axis}
\end{tikzpicture}
\end{document}
